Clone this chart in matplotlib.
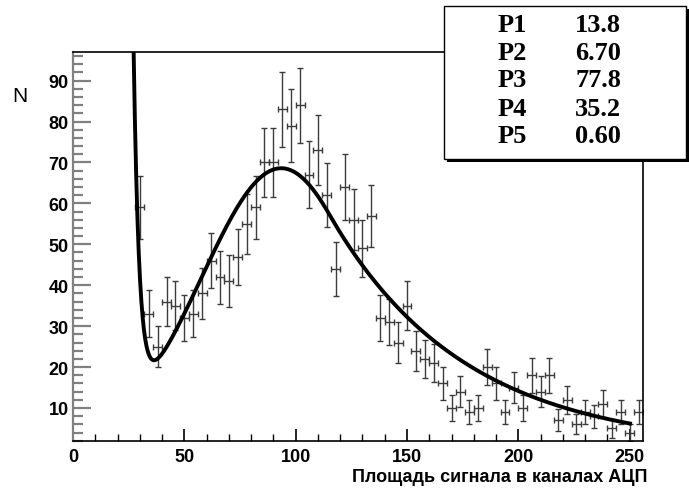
import numpy as np
import matplotlib
matplotlib.use("Agg")
import matplotlib.pyplot as plt
from matplotlib.ticker import MultipleLocator
from matplotlib.patches import Rectangle

# ---- data ----
bin_centers = [30, 34, 38, 42, 46, 50, 54, 58, 62, 66, 70, 74, 78, 82, 86, 90,
               94, 98, 102, 106, 110, 114, 118, 122, 126, 130, 134, 138, 142,
               146, 150, 154, 158, 162, 166, 170, 174, 178, 182, 186, 190, 194,
               198, 202, 206, 210, 214, 218, 222, 226, 230, 234, 238, 242, 246,
               250, 254]
counts = [59, 33, 25, 36, 35, 32, 33, 38, 46, 42, 41, 47, 55, 59, 70, 70,
          83, 79, 84, 67, 73, 62, 44, 64, 56, 49, 57, 32, 31,
          26, 35, 24, 22, 21, 16, 10, 14, 9, 10, 20, 16, 9,
          15, 10, 18, 14, 18, 7, 12, 6, 9, 8, 11, 5, 9,
          4, 9]
bin_half_width = 2.0

# fit-curve parameters (exponential + gaussian with exponential tail)
exp_a, exp_len = 15.33, 2.5
peak_h, peak_mu, peak_sigma, tail_k = 68.6, 93.5, 36.0, 0.593
fit_range = (20, 251)

stat_names = ["P1", "P2", "P3", "P4", "P5"]
stat_values = ["13.8", "6.70", "77.8", "35.2", "0.60"]

x_label = "Площадь сигнала в каналах АЦП"
y_label = "N"


def fit_func(x):
    e = np.exp(exp_a - x / exp_len)
    z = (x - peak_mu) / peak_sigma
    g = np.where(z <= tail_k, np.exp(-0.5 * z ** 2),
                 np.exp(0.5 * tail_k ** 2 - tail_k * z))
    return e + peak_h * g


W, H = 689, 489
fig = plt.figure(figsize=(W / 100, H / 100), dpi=100)
ax = fig.add_axes([73 / W, 1 - 441.7 / H, (643 - 73) / W, (441.7 - 53) / H])

xc = np.array(bin_centers, dtype=float)
yc = np.array(counts, dtype=float)
ax.errorbar(xc, yc, yerr=np.sqrt(yc), xerr=bin_half_width, fmt='none',
            ecolor='#3c3c3c', elinewidth=1.0, capsize=2, capthick=1.0)

xf = np.linspace(fit_range[0], fit_range[1], 800)
ax.plot(xf, fit_func(xf), color='black', lw=2.8, solid_capstyle='butt')

ax.set_xlim(0, 256)
ax.set_ylim(2, 97)

ax.xaxis.set_major_locator(MultipleLocator(50))
ax.xaxis.set_minor_locator(MultipleLocator(10))
ax.yaxis.set_major_locator(MultipleLocator(10))
ax.yaxis.set_minor_locator(MultipleLocator(2))
ax.set_yticks([10, 20, 30, 40, 50, 60, 70, 80, 90])

ax.tick_params(axis='x', which='major', direction='in', length=9, width=1.2,
               color='black', pad=5, top=False)
ax.tick_params(axis='x', which='minor', direction='in', length=5, width=1.0,
               color='black', top=False)
ax.tick_params(axis='y', which='major', direction='in', length=13, width=1.6,
               color='#808080', pad=3, right=False)
ax.tick_params(axis='y', which='minor', direction='in', length=7, width=1.6,
               color='#808080', right=False)
for lab in ax.get_xticklabels() + ax.get_yticklabels():
    lab.set_fontfamily('Liberation Sans')
    lab.set_fontweight('bold')
    lab.set_fontsize(13)

ax.spines['left'].set_color('#808080')
ax.spines['left'].set_linewidth(1.6)
for s in ['top', 'right', 'bottom']:
    ax.spines[s].set_color('black')
    ax.spines[s].set_linewidth(1.2)

fig.text(20 / W, 1 - 96 / H, y_label, fontsize=15, family='Liberation Sans',
         ha='center', va='center')
fig.text(647 / W, 1 - 478 / H, x_label, fontsize=13, family='Liberation Sans',
         fontweight='bold', ha='right', va='center')

# stats box with shadow
bx0, bx1 = 444 / W, 686 / W
by0, by1 = 1 - 160 / H, 1 - 7 / H
shadow = Rectangle((bx0 + 3 / W, by0 - 3 / H), bx1 - bx0, by1 - by0,
                   transform=fig.transFigure, facecolor='black',
                   edgecolor='none', zorder=5)
box = Rectangle((bx0, by0), bx1 - bx0, by1 - by0, transform=fig.transFigure,
                facecolor='white', edgecolor='black', lw=1.0, zorder=6)
fig.add_artist(shadow)
fig.add_artist(box)
row_y = [25, 53, 81, 109, 137]
for name, val, ry in zip(stat_names, stat_values, row_y):
    fig.text(512 / W, 1 - ry / H, name, fontsize=19, family='Liberation Serif',
             fontweight='bold', ha='center', va='center', zorder=7)
    fig.text(598 / W, 1 - ry / H, val, fontsize=19, family='Liberation Serif',
             fontweight='bold', ha='center', va='center', zorder=7)

fig.savefig('out.png', dpi=100)
